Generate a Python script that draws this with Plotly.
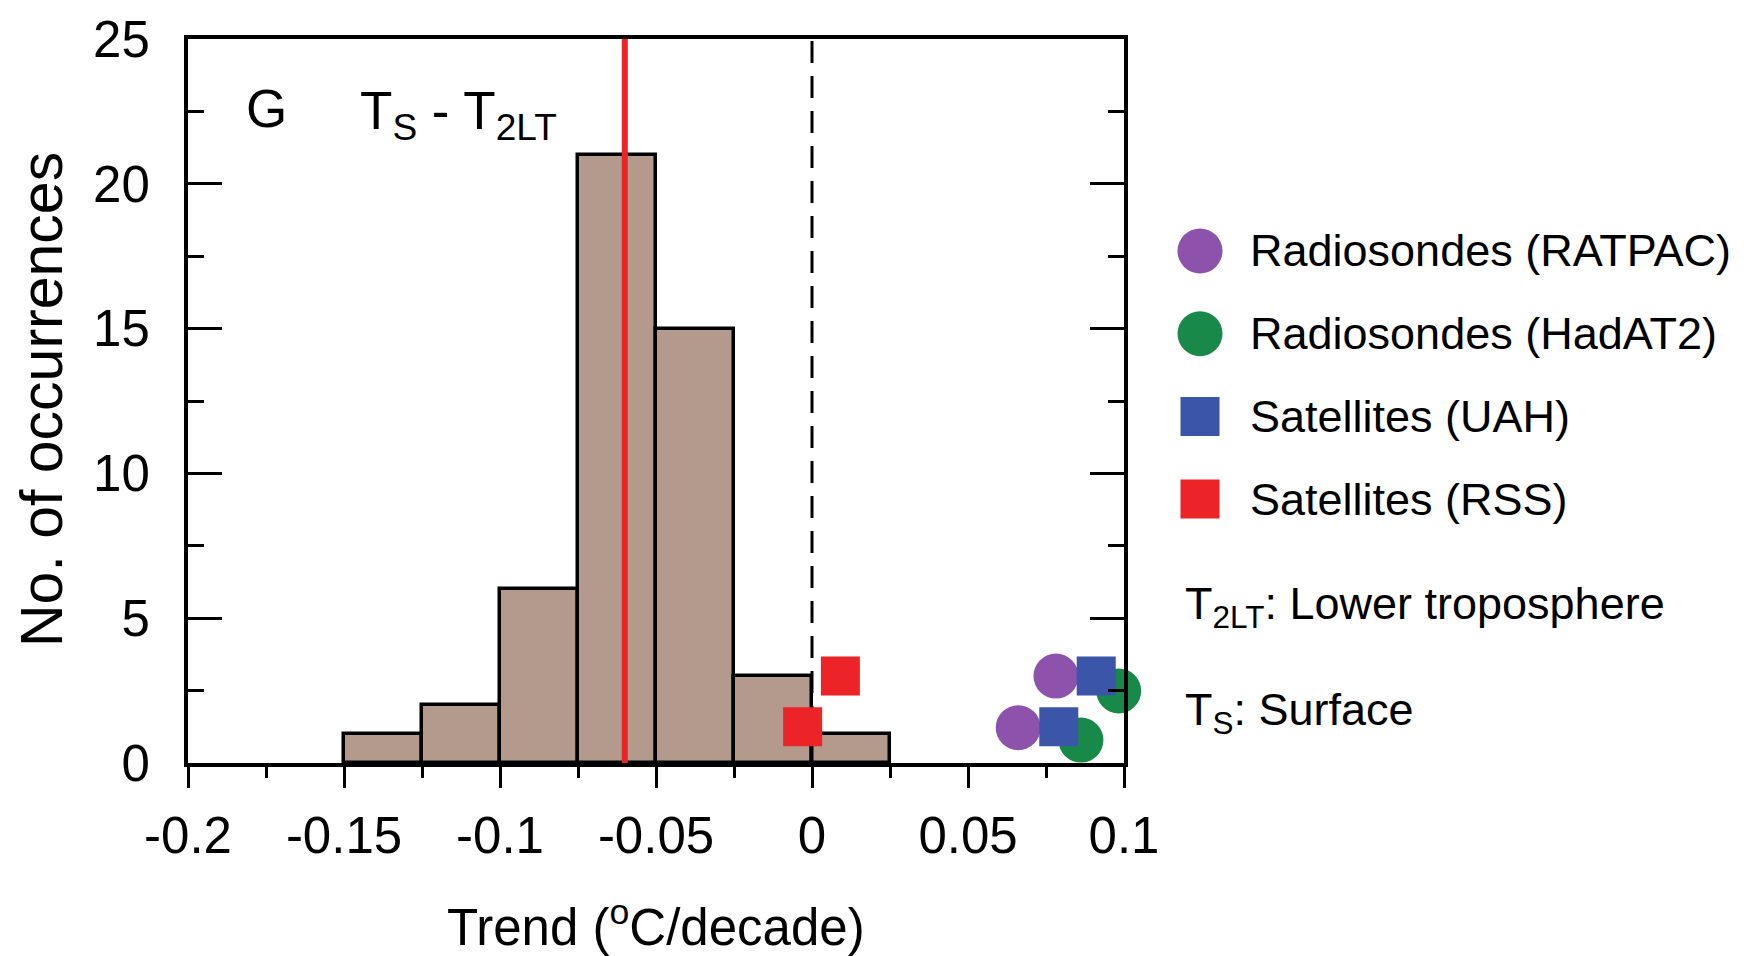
import plotly.graph_objects as go

# ---------------- data ----------------
bin_left = [-0.15, -0.125, -0.1, -0.075, -0.05, -0.025, 0.0]
bin_counts = [1, 2, 6, 21, 15, 3, 1]
bin_width = 0.025
mean_trend = -0.06

ratpac_x = [0.0661, 0.0782]
ratpac_y = [1.22, 3.0]
hadat2_x = [0.0862, 0.0983]
hadat2_y = [0.79, 2.49]
uah_x = [0.0791, 0.0911]
uah_y = [1.25, 3.0]
rss_x = [-0.003, 0.0091]
rss_y = [1.25, 3.0]

x_tick_vals = [-0.2, -0.15, -0.1, -0.05, 0, 0.05, 0.1]
x_tick_text = ["-0.2", "-0.15", "-0.1", "-0.05", "0", "0.05", "0.1"]
y_tick_vals = [0, 5, 10, 15, 20, 25]

legend_names = ["Radiosondes (RATPAC)", "Radiosondes (HadAT2)", "Satellites (UAH)", "Satellites (RSS)"]
legend_colors = ["#8d52ab", "#19894a", "#3b55a9", "#ec2327"]
legend_symbols = ["circle", "circle", "square", "square"]

# ---------------- layout constants ----------------
W, H = 1744, 956
PL, PR, PT, PB = 180, 1116, 31, 755
LEG_X0 = 1150
FONT = "Liberation Sans, Arial, sans-serif"
BAR_COLOR = "#b39a8d"

def px(x):
    return x / W

def py(y):
    return 1 - y / H

fig = go.Figure()

centers = [b + bin_width / 2 for b in bin_left]
fig.add_trace(go.Bar(
    x=centers, y=bin_counts, width=[bin_width] * len(centers),
    marker=dict(color=BAR_COLOR, line=dict(color="black", width=3.5)),
    showlegend=False, hoverinfo="skip"))

# mean line (red) and zero line (dashed)
fig.add_trace(go.Scatter(x=[mean_trend, mean_trend], y=[0, 25], mode="lines",
                         line=dict(color="#ec2327", width=6), showlegend=False, hoverinfo="skip"))
fig.add_trace(go.Scatter(x=[0, 0], y=[0, 25], mode="lines",
                         line=dict(color="black", width=3, dash="22px,13px"), showlegend=False, hoverinfo="skip"))

CIRC = 45
SQ = 39
series = [
    (hadat2_x, hadat2_y, legend_colors[1], "circle", CIRC),
    (ratpac_x, ratpac_y, legend_colors[0], "circle", CIRC),
    (uah_x, uah_y, legend_colors[2], "square", SQ),
    (rss_x, rss_y, legend_colors[3], "square", SQ),
]
for sx, sy, c, sym, sz in series:
    fig.add_trace(go.Scatter(x=sx, y=sy, mode="markers", cliponaxis=False,
                             marker=dict(color=c, symbol=sym, size=sz, line=dict(width=0)),
                             showlegend=False, hoverinfo="skip"))

# legend keys on a separate (non-overlapping) axis in pixel units
leg_rows = [243 + 82.7 * i for i in range(len(legend_names))]
for i, name in enumerate(legend_names):
    sz = CIRC if legend_symbols[i] == "circle" else SQ
    fig.add_trace(go.Scatter(x=[1192], y=[leg_rows[i]], xaxis="x2", yaxis="y2", mode="markers",
                             marker=dict(color=legend_colors[i], symbol=legend_symbols[i], size=sz,
                                         line=dict(width=0)),
                             showlegend=False, hoverinfo="skip", cliponaxis=False))

LEG_FS = 45
annotations = []
for i, name in enumerate(legend_names):
    annotations.append(dict(x=px(1240), y=py(leg_rows[i]), xref="paper", yref="paper",
                            xanchor="left", yanchor="middle", text=name, showarrow=False,
                            font=dict(family=FONT, size=LEG_FS, color="black")))
annotations += [
    dict(x=px(1175), y=py(598), xref="paper", yref="paper", xanchor="left", yanchor="middle",
         text="T<sub>2LT</sub>: Lower troposphere", showarrow=False,
         font=dict(family=FONT, size=LEG_FS, color="black")),
    dict(x=px(1175), y=py(704), xref="paper", yref="paper", xanchor="left", yanchor="middle",
         text="T<sub>S</sub>: Surface", showarrow=False,
         font=dict(family=FONT, size=LEG_FS, color="black")),
    dict(x=px(236), y=py(100), xref="paper", yref="paper", xanchor="left", yanchor="middle",
         text="G", showarrow=False, font=dict(family=FONT, size=53, color="black")),
    dict(x=px(350), y=py(106), xref="paper", yref="paper", xanchor="left", yanchor="middle",
         text="T<sub>S</sub> - T<sub>2LT</sub>", showarrow=False,
         font=dict(family=FONT, size=53, color="black")),
    dict(x=px(648), y=py(916), xref="paper", yref="paper", xanchor="center", yanchor="middle",
         text="Trend (<sup>o</sup>C/decade)", showarrow=False,
         font=dict(family=FONT, size=51, color="black")),
    dict(x=px(34), y=py(392), xref="paper", yref="paper", xanchor="center", yanchor="middle",
         text="No. of occurrences", textangle=-90, showarrow=False,
         font=dict(family=FONT, size=59, color="black")),
]

fig.update_layout(
    width=W, height=H,
    margin=dict(l=0, r=0, t=0, b=0),
    paper_bgcolor="white", plot_bgcolor="white",
    bargap=0, showlegend=False,
    annotations=annotations,
    xaxis=dict(domain=[px(PL), px(PR)], range=[-0.2, 0.1], tickvals=x_tick_vals, ticktext=x_tick_text,
               ticks="outside", ticklen=21, tickwidth=3, tickcolor="black",
               minor=dict(dtick=0.025, tick0=0, ticks="outside", ticklen=11, tickwidth=3, tickcolor="black"),
               showline=True, linewidth=4, linecolor="black", mirror=True,
               showgrid=False, zeroline=False, automargin=False, layer="above traces",
               ticklabeloverflow="allow",
               tickfont=dict(family=FONT, size=51, color="black"), ticklabelstandoff=4),
    yaxis=dict(domain=[py(PB), py(PT)], range=[0, 25], tickvals=y_tick_vals,
               ticks="inside", ticklen=34, tickwidth=3, tickcolor="black",
               minor=dict(dtick=2.5, tick0=0, ticks="inside", ticklen=16, tickwidth=3, tickcolor="black"),
               showline=True, linewidth=4, linecolor="black", mirror="allticks",
               showgrid=False, zeroline=False, automargin=False, layer="above traces",
               ticklabeloverflow="allow",
               tickfont=dict(family=FONT, size=51, color="black"), ticklabelstandoff=24),
    xaxis2=dict(domain=[px(LEG_X0), 1], range=[LEG_X0, W], visible=False, fixedrange=True,
                anchor="y2"),
    yaxis2=dict(domain=[0, 1], range=[H, 0], visible=False, fixedrange=True, anchor="x2"),
)

fig.write_html("out.html")
